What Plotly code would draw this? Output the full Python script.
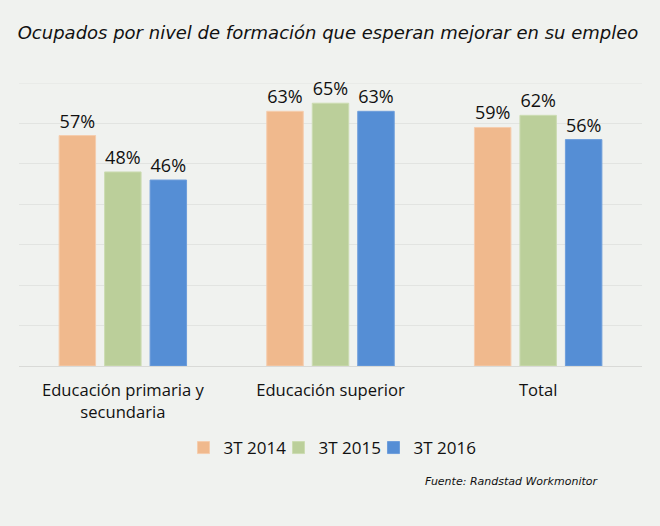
import plotly.graph_objects as go

categories = ["Educación primaria y<br>secundaria", "Educación superior", "Total"]
series_names = ["3T 2014", "3T 2015", "3T 2016"]
v2014 = [57, 63, 59]
v2015 = [48, 65, 62]
v2016 = [46, 63, 56]
colors = ["#F0B98D", "#BBCF9A", "#558ED5"]
edge = ["#F5CDAE", "#CCDCB2", "#6E9EDB"]

fig = go.Figure()
for name, vals, c, e in zip(series_names, [v2014, v2015, v2016], colors, edge):
    fig.add_trace(go.Bar(
        x=categories, y=vals, name=name,
        marker=dict(color=c, line=dict(color=e, width=1)),
        text=[f"{v}%" for v in vals], textposition="outside",
        textfont=dict(family="Open Sans, Noto Sans, sans-serif", size=18, color="#111111"),
        cliponaxis=False,
    ))
# invisible legend spacer so the last legend label is not clipped
fig.add_trace(go.Scatter(x=[None], y=[None], name=" ", mode="markers",
                         marker=dict(color="rgba(0,0,0,0)", size=1,
                                     line=dict(width=0, color="rgba(0,0,0,0)")),
                         hoverinfo="skip", showlegend=True))

bg = "#F0F2EF"
fig.update_layout(
    width=660, height=526,
    paper_bgcolor=bg, plot_bgcolor=bg,
    margin=dict(l=19, r=18, t=83, b=160),
    barmode="group", bargap=0.343, bargroupgap=0.198,
    title=dict(text="<i>Ocupados por nivel de formación que esperan mejorar en su empleo</i>",
               x=0.497, xanchor="center", y=1 - 33/526, yanchor="middle",
               font=dict(family="DejaVu Sans, sans-serif", size=18, color="#111111")),
    font=dict(family="Open Sans, Noto Sans, sans-serif", size=16, color="#111111"),
    showlegend=True,
    legend=dict(orientation="h", x=0.5690, xanchor="center", y=(366-448)/283, yanchor="middle",
                font=dict(size=17, color="#111111"), bgcolor="rgba(0,0,0,0)",
                itemwidth=30, traceorder="normal",
                entrywidth=50, entrywidthmode="pixels"),
    xaxis=dict(showgrid=False, showline=True, linecolor="#D9DAD7", linewidth=1,
               ticks="", ticklabelstandoff=9, tickfont=dict(size=16.6, color="#111111")),
    yaxis=dict(range=[0, 70], dtick=10, showgrid=True, gridcolor="#E2E4E1", gridwidth=1,
               showticklabels=False, zeroline=False, showline=False),
    shapes=[dict(type="line", xref="paper", yref="y", x0=0, x1=1, y0=70, y1=70,
                 line=dict(color="#E2E4E1", width=1), layer="below")],
    annotations=[dict(text="<i>Fuente: Randstad Workmonitor</i>", xref="paper", yref="paper",
                      x=(600-19)/623, xanchor="right", y=(366-481)/283, yanchor="middle",
                      showarrow=False,
                      font=dict(family="DejaVu Sans, sans-serif", size=11, color="#111111"))],
)

fig.write_html("out.html")
